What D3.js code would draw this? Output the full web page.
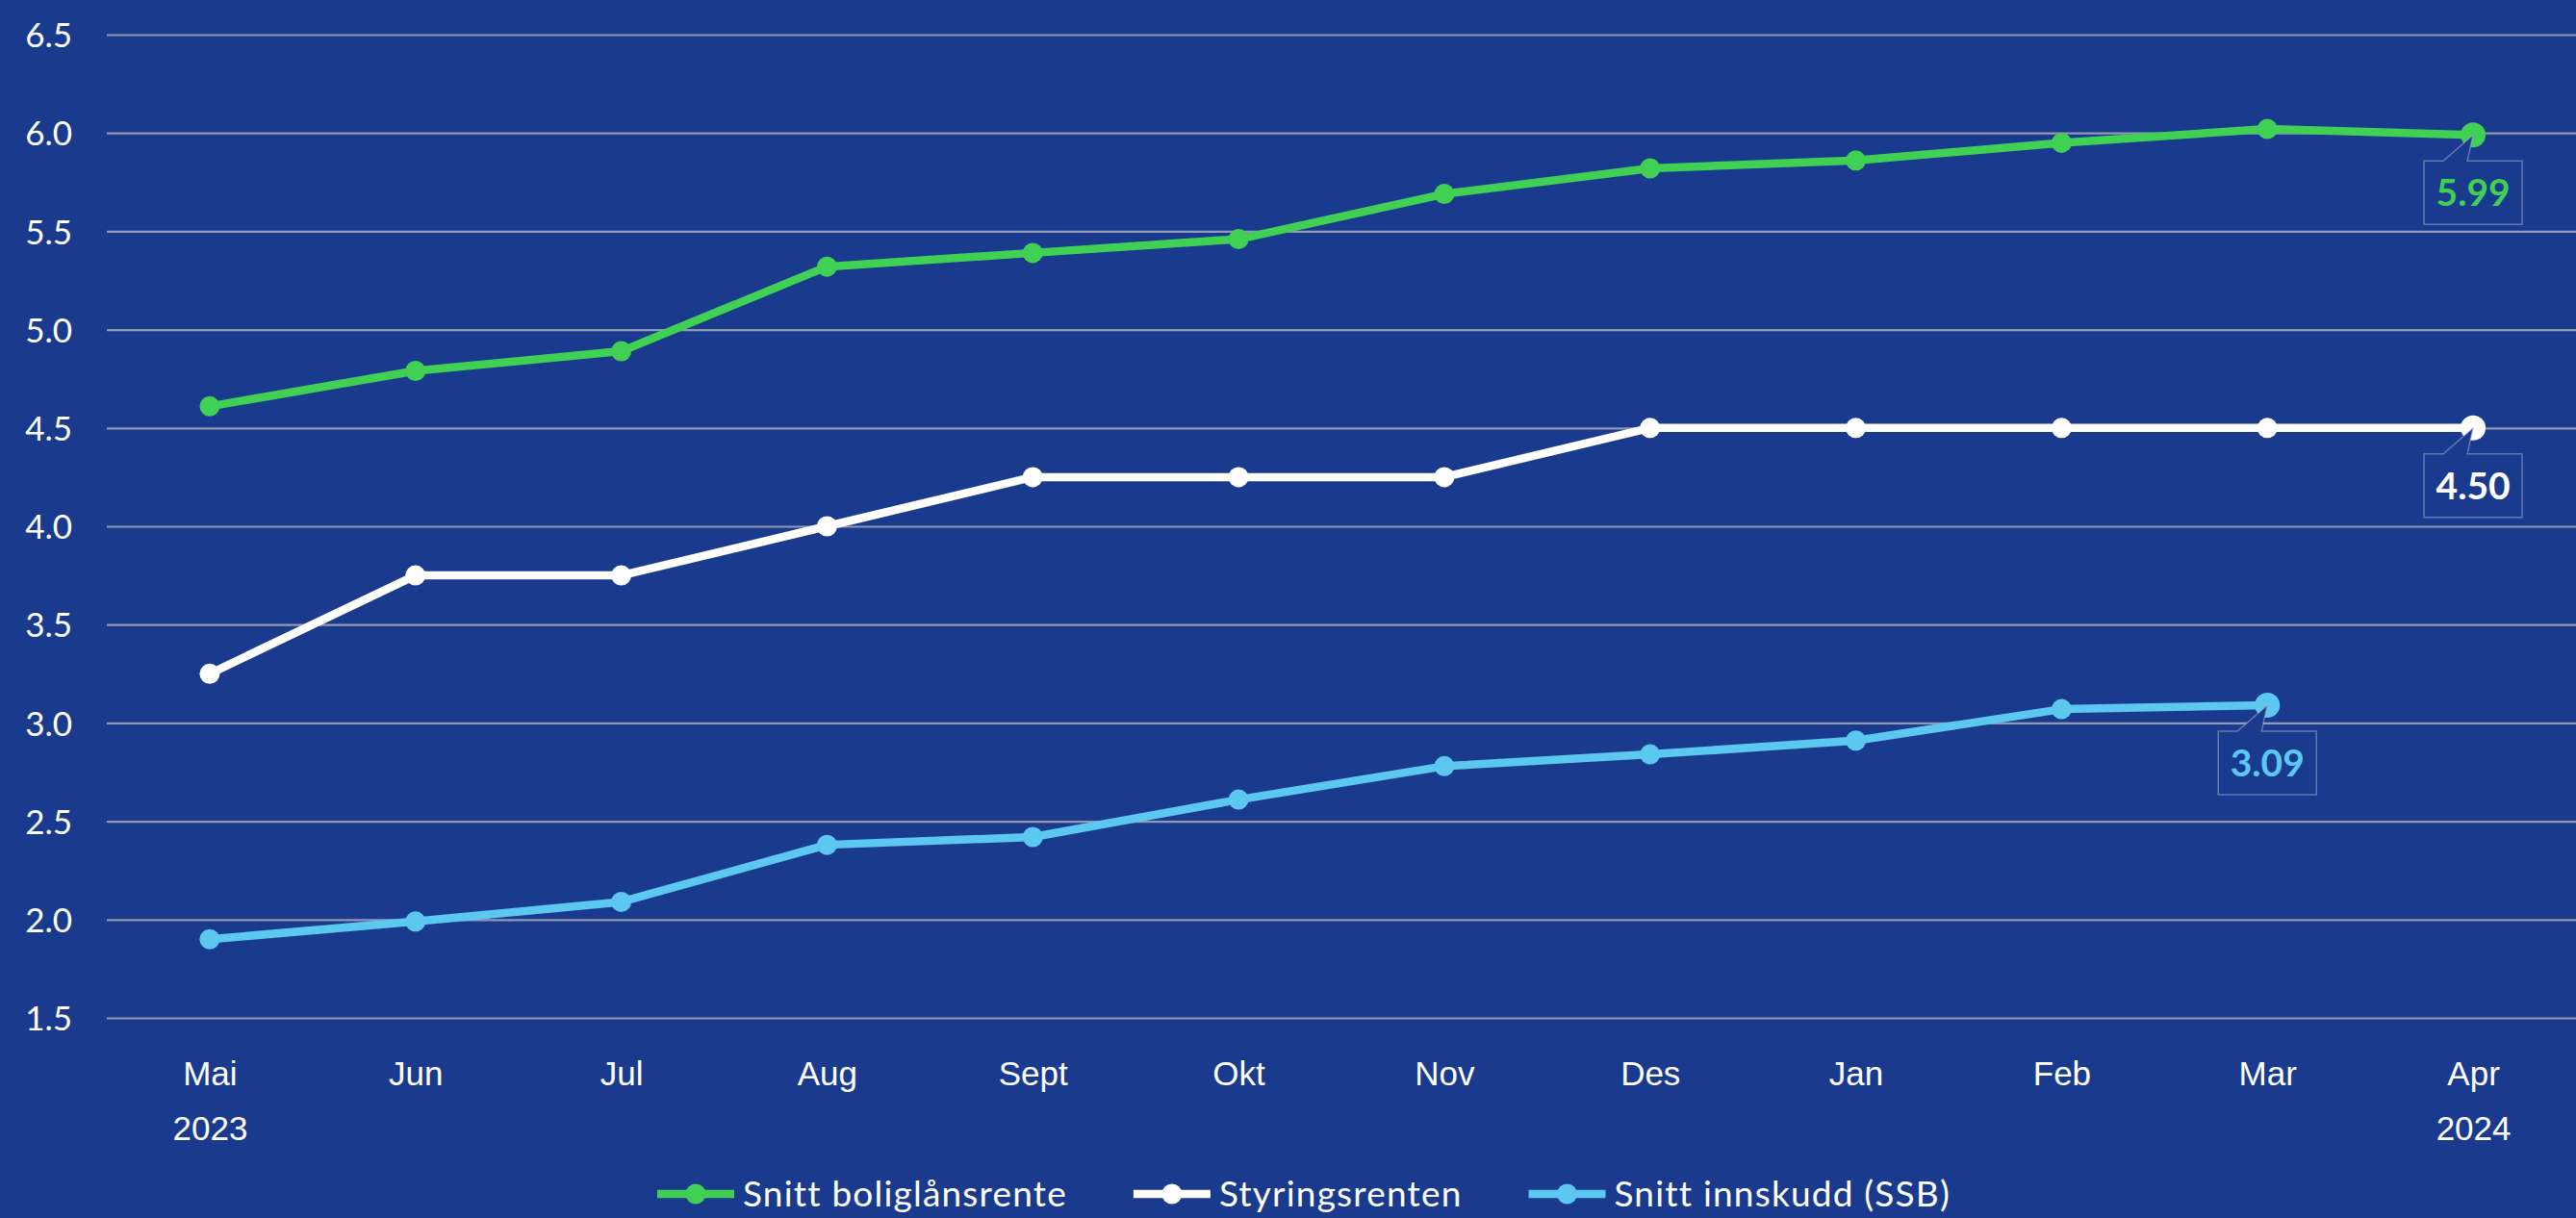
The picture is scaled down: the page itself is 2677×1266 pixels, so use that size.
<!DOCTYPE html>
<html>
<head>
<meta charset="utf-8">
<script src="https://cdn.jsdelivr.net/npm/d3@7"></script>
<style>
    body { margin: 0; background: #1a3b8d; overflow: hidden; }
    svg { display: block; font-family: Lato, "Open Sans", sans-serif; }
</style>
</head>
<body>
<svg id="chart"></svg>
<script>
// data
const months = ["Mai", "Jun", "Jul", "Aug", "Sept", "Okt", "Nov", "Des", "Jan", "Feb", "Mar", "Apr"];
const yearLabels = {"Mai": "2023", "Apr": "2024"};
const yTicks = [1.5, 2.0, 2.5, 3.0, 3.5, 4.0, 4.5, 5.0, 5.5, 6.0, 6.5];

const boliglan = [4.61, 4.79, 4.89, 5.32, 5.39, 5.46, 5.69, 5.82, 5.86, 5.95, 6.02, 5.99];
const styringsrente = [3.25, 3.75, 3.75, 4.00, 4.25, 4.25, 4.25, 4.50, 4.50, 4.50, 4.50, 4.50];
const innskudd = [1.90, 1.99, 2.09, 2.38, 2.42, 2.61, 2.78, 2.84, 2.91, 3.07, 3.09];

const seriesNames = ["Snitt boliglånsrente", "Styringsrenten", "Snitt innskudd (SSB)"];
const seriesColors = ["#40d053", "#ffffff", "#5cc8f2"];

const FONT = "Lato, 'Open Sans', sans-serif";

class LineChartVis {

    constructor(_config) {
        this.config = {
            parentElement: _config.parentElement,
            containerWidth: _config.containerWidth || 2677,
            containerHeight: _config.containerHeight || 1266,
            margin: _config.margin || {top: 36, right: 0, bottom: 208, left: 111}
        };
        this.initVis();
    }

    initVis() {
        let vis = this;
        vis.width = vis.config.containerWidth - vis.config.margin.left - vis.config.margin.right;
        vis.height = vis.config.containerHeight - vis.config.margin.top - vis.config.margin.bottom;

        vis.svg = d3.select(vis.config.parentElement)
            .attr("width", vis.config.containerWidth)
            .attr("height", vis.config.containerHeight);

        vis.chart = vis.svg.append("g")
            .attr("transform", `translate(${vis.config.margin.left},${vis.config.margin.top})`);

        vis.xScale = d3.scalePoint()
            .domain(months)
            .range([0, vis.width])
            .padding(0.5);

        vis.yScale = d3.scaleLinear()
            .domain([1.5, 6.5])
            .range([vis.height, 0]);

        vis.series = seriesNames.map((name, i) => ({
            name: name,
            color: seriesColors[i],
            values: [boliglan, styringsrente, innskudd][i].map((v, j) => ({month: months[j], value: v}))
        }));
    }

    renderVis() {
        let vis = this;

        // gridlines + y labels
        const yAxis = d3.axisLeft(vis.yScale)
            .tickValues(yTicks)
            .tickSize(-vis.width)
            .tickPadding(36)
            .tickFormat(d3.format(".1f"));

        const yAxisG = vis.chart.append("g").call(yAxis)
            .attr("font-family", FONT);
        yAxisG.select(".domain").remove();
        yAxisG.selectAll(".tick line")
            .attr("stroke", "#9499b2")
            .attr("stroke-width", 2.2);
        yAxisG.selectAll(".tick text")
            .attr("fill", "#ffffff")
            .attr("font-size", 35)
            .attr("dy", "0.36em");

        // x labels, with year on second line
        const xAxisG = vis.chart.append("g")
            .attr("transform", `translate(0,${vis.height})`)
            .attr("font-family", FONT)
            .call(d3.axisBottom(vis.xScale).tickSize(0).tickPadding(0));
        xAxisG.select(".domain").remove();
        xAxisG.selectAll(".tick text").remove();
        const xTick = xAxisG.selectAll(".tick");
        xTick.append("text")
            .attr("fill", "#ffffff")
            .attr("font-size", 35)
            .attr("text-anchor", "middle")
            .attr("y", 70)
            .text(d => d);
        xTick.filter(d => yearLabels[d])
            .append("text")
            .attr("fill", "#ffffff")
            .attr("font-size", 35)
            .attr("text-anchor", "middle")
            .attr("y", 127)
            .text(d => yearLabels[d]);

        const line = d3.line()
            .x(d => vis.xScale(d.month))
            .y(d => vis.yScale(d.value));

        const seriesG = vis.chart.selectAll(".series")
            .data(vis.series)
            .join("g")
            .attr("class", "series");

        seriesG.append("path")
            .attr("fill", "none")
            .attr("stroke", d => d.color)
            .attr("stroke-width", 8.5)
            .attr("stroke-linejoin", "round")
            .attr("d", d => line(d.values));

        seriesG.selectAll("circle")
            .data(d => d.values.map((v, i) => ({...v, color: d.color, last: i === d.values.length - 1})))
            .join("circle")
            .attr("cx", d => vis.xScale(d.month))
            .attr("cy", d => vis.yScale(d.value))
            .attr("r", d => d.last ? 13 : 10.5)
            .attr("fill", d => d.color);

        // callout labels on the last point of each series
        const boxW = 102, boxH = 66, boxGap = 27;
        const callout = seriesG.append("g")
            .datum(d => ({...d.values[d.values.length - 1], color: d.color}))
            .attr("transform", d => `translate(${vis.xScale(d.month)},${vis.yScale(d.value)})`);

        callout.append("path")
            .attr("fill", "#1a3b8d")
            .attr("stroke", "rgba(190,195,215,0.45)")
            .attr("stroke-width", 1.5)
            .attr("d", () => {
                const l = -boxW / 2, r = boxW / 2, t = boxGap, b = boxGap + boxH;
                return `M${l},${t}L-31,${t}L0,0L-6,${t}L${r},${t}L${r},${b}L${l},${b}Z`;
            });

        callout.append("text")
            .attr("fill", d => d.color)
            .attr("font-size", 39)
            .attr("font-weight", "bold")
            .attr("text-anchor", "middle")
            .attr("x", 0)
            .attr("y", boxGap + boxH / 2)
            .attr("dy", "0.36em")
            .text(d => d.value.toFixed(2));

        // legend
        const legend = vis.svg.append("g")
            .attr("transform", `translate(0,1241)`);
        const items = legend.selectAll(".legend-item")
            .data(vis.series)
            .join("g")
            .attr("class", "legend-item");
        items.append("line")
            .attr("x1", 0).attr("x2", 80)
            .attr("stroke", d => d.color)
            .attr("stroke-width", 8.5);
        items.append("circle")
            .attr("cx", 40)
            .attr("r", 10.5)
            .attr("fill", d => d.color);
        items.append("text")
            .attr("x", 89)
            .attr("dy", "0.35em")
            .attr("fill", "#ffffff")
            .attr("font-size", 37)
            .attr("letter-spacing", 1.2)
            .text(d => d.name);

        // lay out legend items side by side, starting where the reference does
        const gap = 69;
        let widths = [];
        items.each(function() { widths.push(this.getBBox().width); });
        let x = 683;
        items.attr("transform", (d, i) => {
            const t = `translate(${x},0)`;
            x += widths[i] + gap;
            return t;
        });
    }
}

const chart = new LineChartVis({parentElement: "#chart"});
chart.renderVis();
</script>
</body>
</html>
